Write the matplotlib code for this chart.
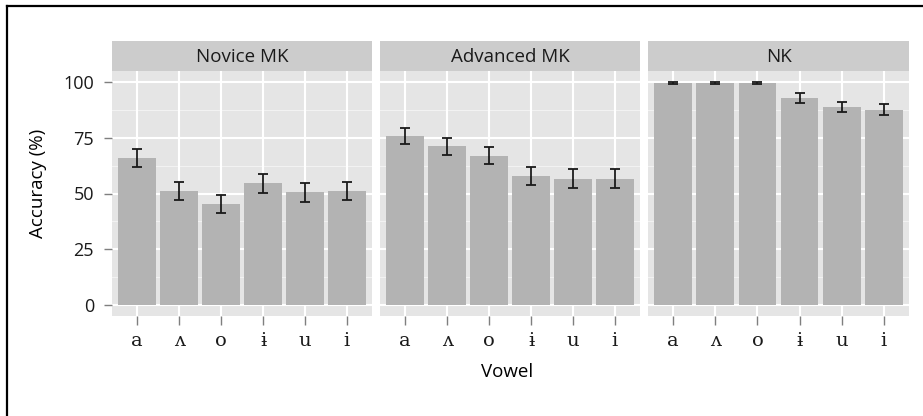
import matplotlib
matplotlib.use("Agg")
import matplotlib.pyplot as plt
from matplotlib.lines import Line2D
import numpy as np

vowels = ['a', 'ʌ', 'o', 'ɨ', 'u', 'i']
groups = ['Novice MK', 'Advanced MK', 'NK']

novice = [66.0, 51.3, 45.2, 54.6, 50.5, 51.1]
novice_se = [4.0, 4.0, 4.1, 4.3, 4.4, 4.1]
advanced = [76.0, 71.2, 67.0, 57.8, 56.6, 56.6]
advanced_se = [3.6, 3.8, 3.9, 4.2, 4.2, 4.2]
nk = [99.6, 99.6, 99.6, 92.8, 88.9, 87.6]
nk_se = [0.5, 0.5, 0.5, 2.2, 2.4, 2.5]

means = [novice, advanced, nk]
errors = [novice_se, advanced_se, nk_se]
y_ticks = [0, 25, 50, 75, 100]

W, H = 923, 416
fig = plt.figure(figsize=(W / 100, H / 100), dpi=100)
fig.patch.set_facecolor('white')

sans = ['Open Sans', 'DejaVu Sans']
serif = ['DejaVu Serif']

PANEL_BG = '#e5e5e5'
STRIP_BG = '#cccccc'
BAR = '#b3b3b3'
TICK = '#7f7f7f'

panel_x = [(112, 372), (380, 640), (648, 909)]
panel_top, panel_bottom = 71, 316
strip_top = 41


def fx(px):
    return px / W


def fy(py):
    return 1 - py / H


x = np.arange(len(vowels))
for k, (g, (x0, x1)) in enumerate(zip(groups, panel_x)):
    ax = fig.add_axes([fx(x0), fy(panel_bottom), fx(x1 - x0), (panel_bottom - panel_top) / H])
    ax.set_facecolor(PANEL_BG)
    ax.set_xlim(-0.6, len(vowels) - 0.4)
    ax.set_ylim(-5, 105)
    for s in ax.spines.values():
        s.set_visible(False)
    # grid: minor then major
    for yv in [12.5, 37.5, 62.5, 87.5]:
        ax.axhline(yv, color='#f2f2f2', lw=0.8, zorder=0.5)
    for yv in y_ticks:
        ax.axhline(yv, color='white', lw=1.5, zorder=0.6)
    for xv in x:
        ax.axvline(xv, color='white', lw=1.5, zorder=0.6)
    ax.bar(x, means[k], width=0.9, color=BAR, zorder=2)
    ax.errorbar(x, means[k], yerr=errors[k], fmt='none', ecolor='#1a1a1a',
                elinewidth=1.3, capsize=3.5, capthick=1.3, zorder=3)
    ax.set_xticks(x)
    ax.set_xticklabels(vowels, family=serif, fontsize=14, color='#1a1a1a')
    ax.tick_params(axis='x', length=6.5, width=1.0, color=TICK, pad=5)
    if k == 0:
        ax.set_yticks(y_ticks)
        ax.set_yticklabels([str(v) for v in y_ticks], family=sans, fontsize=13, color='#1a1a1a')
        ax.tick_params(axis='y', length=6.0, width=1.0, color=TICK, pad=7)
    else:
        ax.set_yticks([])
    ax.grid(False)

    # facet strip
    sax = fig.add_axes([fx(x0), fy(panel_top), fx(x1 - x0), (panel_top - strip_top) / H])
    sax.set_facecolor(STRIP_BG)
    sax.set_xticks([])
    sax.set_yticks([])
    for s in sax.spines.values():
        s.set_visible(False)
    sax.text(0.5, 0.45, g, ha='center', va='center', transform=sax.transAxes,
             family=sans, fontsize=13.5, color='#1a1a1a')

fig.text(fx(507), fy(372), 'Vowel', ha='center', va='center', family=sans, fontsize=13.5)
fig.text(fx(38), fy(183), 'Accuracy (%)', ha='center', va='center', rotation=90,
         family=sans, fontsize=13.5)

# outer border
fig.add_artist(Line2D([fx(7), fx(7)], [fy(6), -0.1], color='black', lw=1.6, transform=fig.transFigure))
fig.add_artist(Line2D([fx(7), 1.1], [fy(6), fy(6)], color='black', lw=1.6, transform=fig.transFigure))

fig.savefig('out.png', dpi=100)
